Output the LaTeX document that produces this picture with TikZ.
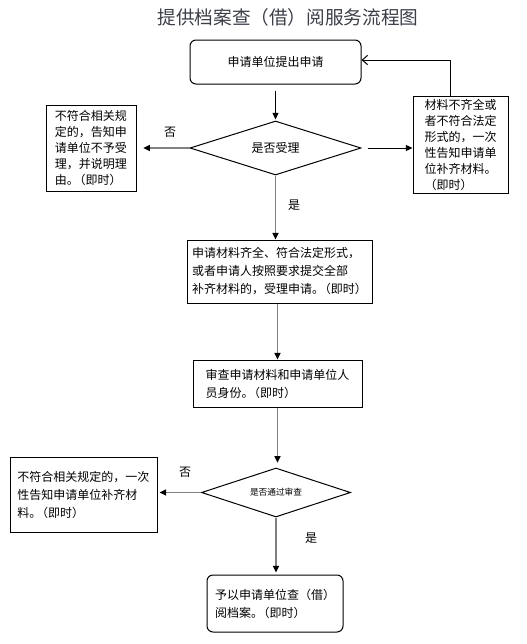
\documentclass[tikz,border=0pt]{standalone}
\usepackage{fontspec}
\setmainfont{Noto Sans CJK SC}
\usetikzlibrary{shapes.geometric}
\usetikzlibrary{arrows.meta}
\usetikzlibrary{positioning}
\definecolor{titlegray}{RGB}{60,62,72}
\definecolor{linegray}{RGB}{128,128,128}
\newcommand\nowtag{。\kern-4pt（即时）}

\tikzset{
  box/.style={draw, line width=0.75pt, align=left, inner sep=0pt,
    font=\fontsize{9pt}{13.5pt}\selectfont},
  rbox/.style={box, rounded corners=4.5pt},
  decision/.style={draw, diamond, line width=0.75pt, inner sep=0pt, aspect=3,
    font=\fontsize{9pt}{11pt}\selectfont},
  flow/.style={line width=0.75pt, -{Triangle[length=5pt,width=4.5pt]}},
  grayflow/.style={draw=linegray, line width=1.1pt,
    -{Triangle[length=5pt,width=4.5pt,color=black]}},
  lbl/.style={font=\fontsize{9pt}{11pt}\selectfont}
}

\begin{document}
\begin{tikzpicture}[x=0.75pt, y=-0.75pt]
        \useasboundingbox (0,0) rectangle (527,644);
        \node[font=\fontsize{14pt}{16pt}\selectfont, text=titlegray] (title) at (288,17) {提供档案查（借）阅服务流程图};

        % main flow
        \node[rbox, align=center, minimum width=128.25pt, minimum height=33pt] (apply) at (275.5,62) {申请单位提出申请};
        \node[decision, minimum width=128.25pt, minimum height=40.5pt] (accept) at (275.5,148) {是否受理};
        \node[box, minimum width=138.75pt, minimum height=47.25pt] (check) at (279.5,271.5) {申请材料齐全、符合法定形式，\\或者申请人按照要求提交全部\\补齐材料的，受理申请\nowtag};
        \node[box, minimum width=126.75pt, minimum height=35.25pt] (review) at (277.5,383.5) {审查申请材料和申请单位人\\员身份\nowtag};
        \node[decision, minimum width=111.75pt, minimum height=36.75pt, font=\fontsize{6.5pt}{8pt}\selectfont] (pass) at (276,492.5) {是否通过审查};
        \node[rbox, minimum width=102pt, minimum height=42.75pt] (lend) at (275,603.5) {予以申请单位查（借）\\阅档案\nowtag};

        % side boxes
        \node[box, minimum width=67.5pt, minimum height=64.5pt, font=\fontsize{9pt}{12pt}\selectfont] (refuse) at (91,148) {不符合相关规\\定的，告知申\\请单位不予受\\理，并说明理\\由\nowtag};
        \node[box, minimum width=71.25pt, minimum height=72.75pt, font=\fontsize{9pt}{12pt}\selectfont] (supply) at (460.5,144.5) {材料不齐全或\\者不符合法定\\形式的，一次\\性告知申请单\\位补齐材料。\\（即时）};
        \node[box, minimum width=110.25pt, minimum height=56.25pt] (notify) at (83.5,494.5) {不符合相关规定的，一次\\性告知申请单位补齐材\\料\nowtag};

        \node[lbl] (no1) at (170,132) {否};
        \node[lbl] (yes1) at (294,205) {是};
        \node[lbl] (no2) at (185,472) {否};
        \node[lbl] (yes2) at (311,538) {是};

        \draw[flow, shorten <=4.5pt, shorten >=0.75pt] (apply) -- (accept);
        \draw[grayflow, shorten >=5pt] (accept.west) -- (refuse.east);
        \draw[flow, shorten <=4.5pt] (accept.east) -- (accept.east -| supply.west);
        \draw[line width=0.75pt, -{Straight Barb[length=4pt,width=7pt]}] ([xshift=-7.5pt]supply.north) |- ([yshift=1.5pt]apply.east);
        \draw[grayflow] (accept.south) -- (accept.south |- check.north);
        \draw[grayflow] (review.north |- check.south) -- (review.north);
        \draw[grayflow, shorten >=3.5pt] (review.south) -- (review.south |- pass.north);
        \draw[grayflow, shorten >=1.5pt] (pass.west) -- (pass.west -| notify.east);
        \draw[grayflow, shorten >=1.5pt] (pass.south) -- (pass.south |- lend.north);
    \end{tikzpicture}
\end{document}
